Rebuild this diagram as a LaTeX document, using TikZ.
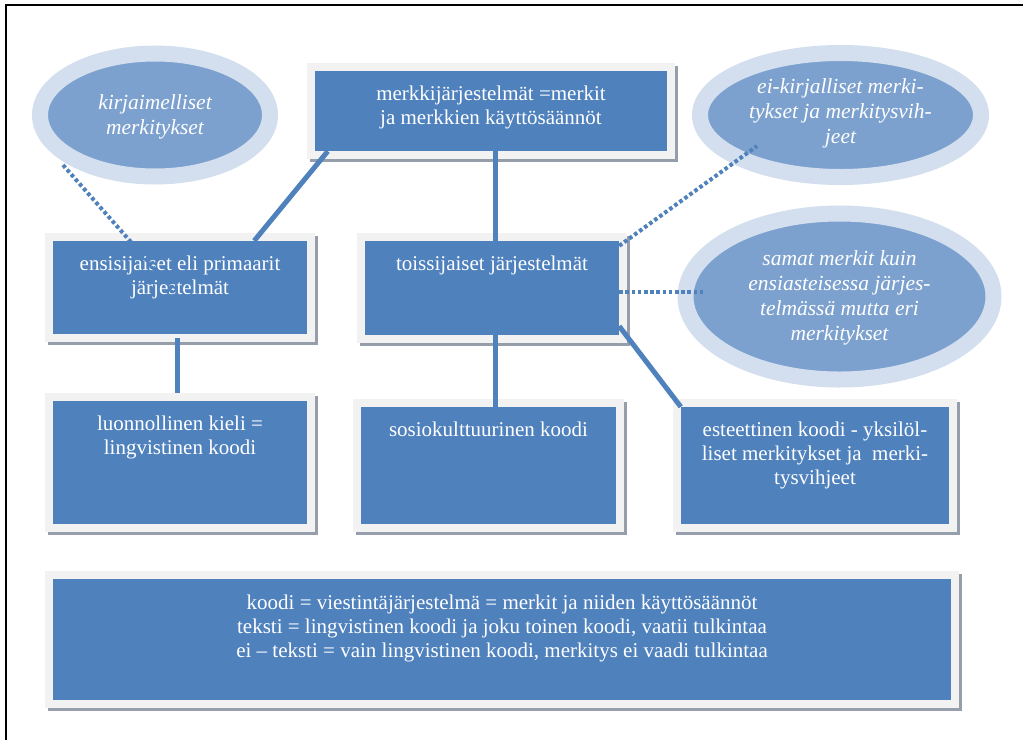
\documentclass[tikz,border=0pt]{standalone}
\usepackage{fontspec}
\setmainfont{Liberation Serif}
\usetikzlibrary{shapes.geometric,fit}

\definecolor{boxblue}{RGB}{79,129,189}
\definecolor{bandgray}{RGB}{242,242,242}
\definecolor{shadegray}{RGB}{150,158,172}
\definecolor{ringblue}{RGB}{211,223,238}
\definecolor{ovalblue}{RGB}{124,161,206}

% A blue card with a light frame and a thin drop shadow.
% #1 node name, (#2,#3)--(#4,#5) corners of the blue area
\newcommand\cardbox[5]{%
  \fill[shadegray] (#2-5,#3-5) rectangle (#4+11,#5+11);
  \fill[bandgray] (#2-8,#3-8) rectangle (#4+8,#5+8);
  \node[card, fit={(#2,#3) (#4,#5)}] (#1) {};
}

\begin{document}
\begin{tikzpicture}[x=1pt,y=-1pt,
  card/.style={fill=boxblue, inner sep=0pt},
  cardtext/.style={text=white, font=\fontsize{21}{24}\selectfont,
    align=center, inner sep=0pt, anchor=north},
  ovaltext/.style={text=white, font=\itshape\fontsize{21.5}{25}\selectfont,
    align=center, inner sep=0pt},
  oval/.style={ellipse, fill=ovalblue, draw=ringblue, line width=16pt,
    inner sep=0pt},
  link/.style={draw=boxblue, line width=5pt},
  dotlink/.style={draw=boxblue, line width=4pt, dash pattern=on 3.6pt off 2.6pt},
]
\useasboundingbox (0,0) rectangle (1023,740);

% page frame
\draw[line width=2pt] (5.5,740) -- (5.5,4.5) -- (1023,4.5);

% ovals
\node[oval, minimum width=230pt, minimum height=123pt] (kir) at (155,115) {};
\node[oval, minimum width=281pt, minimum height=124pt] (eikir) at (840.5,115) {};
\node[oval, minimum width=308pt, minimum height=166pt] (samat) at (839.5,296.5) {};

% cards
\cardbox{merk}{315}{71}{667}{151}
\cardbox{ens}{53}{241}{307}{334}
\cardbox{tois}{365}{241}{619}{335}
\cardbox{luon}{53}{401}{307}{524}
\cardbox{sos}{361}{407}{616}{524}
\cardbox{est}{681}{407}{949}{524}
\cardbox{koodi}{53}{579}{951}{700}

% card texts
\node[cardtext] (merkT) at ([yshift=-15pt]merk.north)
  {merkkijärjestelmät =merkit\\ja merkkien käyttösäännöt};
\node[cardtext] (ensT) at ([yshift=-15pt]ens.north)
  {ensisijaiset eli primaarit\\järjestelmät};
\node[cardtext] (toisT) at ([yshift=-15pt]tois.north)
  {toissijaiset järjestelmät};
\node[cardtext] (luonT) at ([yshift=-15pt]luon.north)
  {luonnollinen kieli =\\lingvistinen koodi};
\node[cardtext] (sosT) at ([yshift=-15pt]sos.north)
  {sosiokulttuurinen koodi};
\node[cardtext] (estT) at ([yshift=-15pt]est.north)
  {esteettinen koodi - yksilöl-\\liset merkitykset ja~ merki-\\tysvihjeet};
\node[cardtext] (koodiT) at ([yshift=-16pt]koodi.north)
  {koodi = viestintäjärjestelmä = merkit ja niiden käyttösäännöt\\
   teksti = lingvistinen koodi ja joku toinen koodi, vaatii tulkintaa\\
   ei – teksti = vain lingvistinen koodi, merkitys ei vaadi tulkintaa};

% oval texts
\node[ovaltext] (kirT) at ([yshift=-1.5pt]kir.center) {kirjaimelliset\\merkitykset};
\node[ovaltext] (eikirT) at ([yshift=2pt]eikir.center)
  {ei-kirjalliset merki-\\tykset ja merkitysvih-\\jeet};
\node[ovaltext] (samatT) at ([yshift=-1pt]samat.center)
  {samat merkit kuin\\ensiasteisessa järjes-\\telmässä mutta eri\\merkitykset};

% solid connectors
\draw[link] ([xshift=13pt]merk.south west) -- ([xshift=-53pt]ens.north east);
\draw[link] ([xshift=4pt]merk.south) -- ([xshift=4pt]merk.south |- tois.north);
\draw[link] ([xshift=-3pt,yshift=-4pt]ens.south) -- ([xshift=-3pt,yshift=8pt]luon.north);
\draw[link] ([xshift=3pt]tois.south) -- ([xshift=3pt]tois.south |- sos.north);
\draw[link] ([yshift=9pt]tois.south east) -- (est.north west);

% dotted connectors
\draw[dotlink] ([shift={(-92pt,-50pt)}]kir.center) -- ([shift={(-5pt,-4.5pt)}]ens.center);
\draw[dotlink] ([yshift=-5pt]tois.north east) -- ([shift={(-83.5pt,-31pt)}]eikir.center);
\draw[dotlink] ([yshift=-4pt]tois.east) -- ([shift={(27.5pt,4.5pt)}]samat.west);
\end{tikzpicture}
\end{document}
